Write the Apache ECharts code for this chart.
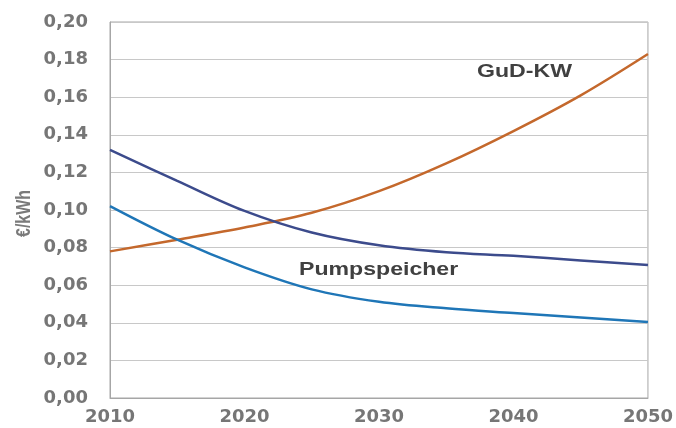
<!DOCTYPE html>
<html>
<head>
<meta charset="utf-8">
<script src="https://cdn.jsdelivr.net/npm/echarts@6/dist/echarts.min.js"></script>
<style>
  html, body { margin: 0; padding: 0; background: #fff; }
  #chart { width: 676px; height: 428px; }
</style>
</head>
<body>
<div id="chart"></div>
<script>
// Stromgestehungskosten in €/kWh, 2010–2050
const years = [2010, 2015, 2020, 2025, 2030, 2035, 2040, 2045, 2050];
const gudKW = [0.078, 0.0842, 0.0907, 0.0985, 0.110, 0.1248, 0.142, 0.161, 0.183];
const pumpspeicherA = [0.132, 0.1155, 0.0995, 0.088, 0.0812, 0.0775, 0.0756, 0.0732, 0.0707];
const pumpspeicherB = [0.1021, 0.0842, 0.0695, 0.0578, 0.0512, 0.0477, 0.0452, 0.0428, 0.0404];
const yTicks = [0, 0.02, 0.04, 0.06, 0.08, 0.10, 0.12, 0.14, 0.16, 0.18, 0.20];

const pairs = arr => years.map((y, i) => [y, arr[i]]);
const tickFont = 'DejaVu Sans, sans-serif';
const textFont = 'Liberation Sans, Arial, sans-serif';

const chart = echarts.init(document.getElementById('chart'));
chart.setOption({
  animation: false,
  grid: {
    left: 110, right: 26, top: 22, bottom: 30,
    show: true, borderColor: '#a6a6a6', borderWidth: 1
  },
  xAxis: {
    type: 'value', min: 2010, max: 2050, interval: 10,
    axisLine: { show: true, lineStyle: { color: '#a6a6a6' } },
    axisTick: { show: false },
    splitLine: { show: false },
    axisLabel: {
      color: '#767676', fontWeight: 'bold', fontSize: 18,
      fontFamily: tickFont, margin: 10,
      formatter: v => String(v)
    }
  },
  yAxis: {
    type: 'value', min: 0, max: 0.2, interval: 0.02,
    axisLine: { show: true, lineStyle: { color: '#a6a6a6' } },
    axisTick: { show: false },
    splitLine: { lineStyle: { color: '#c8c8c8', width: 1 } },
    axisLabel: {
      color: '#767676', fontWeight: 'bold', fontSize: 18,
      fontFamily: tickFont, margin: 22,
      formatter: v => {
        const t = yTicks.find(k => Math.abs(k - v) < 1e-9);
        return (t !== undefined ? t : v).toFixed(2).replace('.', ',');
      }
    }
  },
  series: [
    {
      name: 'GuD-KW', type: 'line', smooth: 0.35, showSymbol: false,
      data: pairs(gudKW),
      lineStyle: { color: '#c4682c', width: 2.5 }
    },
    {
      name: 'Pumpspeicher A', type: 'line', smooth: 0.35, showSymbol: false,
      data: pairs(pumpspeicherA),
      lineStyle: { color: '#3c4b8c', width: 2.5 }
    },
    {
      name: 'Pumpspeicher B', type: 'line', smooth: 0.35, showSymbol: false,
      data: pairs(pumpspeicherB),
      lineStyle: { color: '#1f76b7', width: 2.5 }
    }
  ],
  graphic: [
    {
      // axis title, rotated; widened along the screen x direction
      type: 'text', x: 14, y: 237, rotation: Math.PI / 2, scaleY: 1.3,
      style: { text: '€/kWh', fill: '#7a7a7a', font: 'bold 16px ' + textFont,
               verticalAlign: 'top' }
    },
    {
      type: 'text', x: 477, y: 63, scaleX: 1.32,
      style: { text: 'GuD-KW', fill: '#404040', font: 'bold 17.5px ' + textFont }
    },
    {
      type: 'text', x: 299, y: 261, scaleX: 1.32,
      style: { text: 'Pumpspeicher', fill: '#404040', font: 'bold 17.5px ' + textFont }
    }
  ]
});
</script>
</body>
</html>
